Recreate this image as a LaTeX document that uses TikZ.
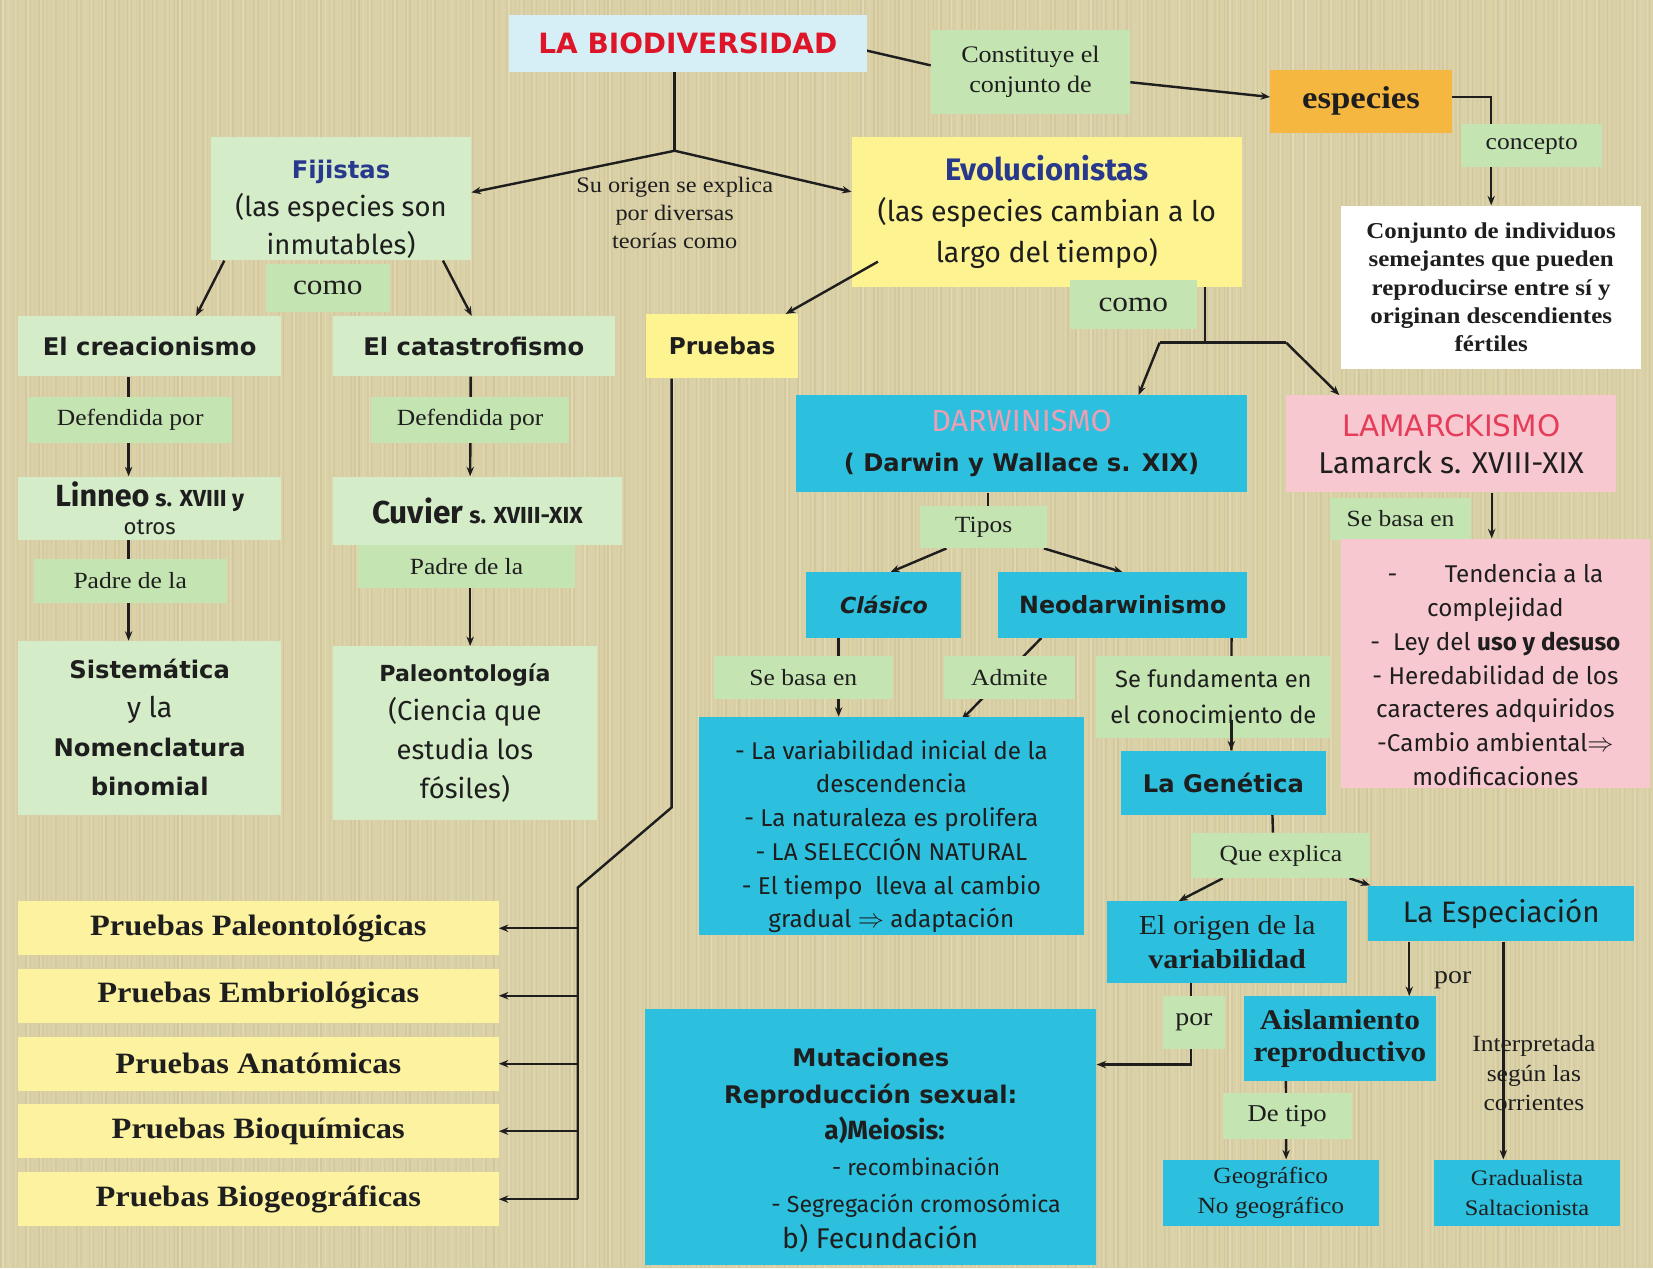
\documentclass[tikz,border=0pt]{standalone}
\usepackage{fontspec}
\setmainfont{Liberation Serif}[FakeStretch=1.1]
\newfontfamily\comic{DejaVu Sans}
\newfontfamily\hand{Fira Sans}
\usetikzlibrary{arrows.meta,calc}
\newcommand\myfs[2]{\fontsize{#1}{#2}\selectfont}
\definecolor{bgtan}{RGB}{219,209,166}
\definecolor{boxgreen}{RGB}{212,236,200}
\definecolor{lblgreen}{RGB}{196,228,178}
\definecolor{ybox}{RGB}{253,243,145}
\definecolor{ybox2}{RGB}{252,242,160}
\definecolor{cyanbox}{RGB}{44,192,222}
\definecolor{pinkbox}{RGB}{248,200,208}
\definecolor{orangebox}{RGB}{246,183,64}
\definecolor{lblue}{RGB}{214,238,246}
\definecolor{titlered}{RGB}{222,20,40}
\definecolor{navy}{RGB}{40,56,140}
\definecolor{darpink}{RGB}{238,158,178}
\definecolor{lampink}{RGB}{230,60,90}
\definecolor{ink}{RGB}{30,30,30}
\pgfdeclarelayer{back}
\pgfdeclarelayer{lines}
\pgfsetlayers{back,lines,main}
\tikzset{
  box/.style={rectangle, inner sep=2pt, align=center, text=ink},
  gbox/.style={box, fill=boxgreen},
  lbl/.style={box, fill=lblgreen, font={\myfs{22}{26}}},
  conn/.style={draw=ink, line width=2.3pt, -{Stealth[length=9pt,width=7pt]}},
  plain/.style={draw=ink, line width=2.3pt},
  freetext/.style={align=center, text=ink}
}
\begin{document}
\begin{tikzpicture}[x=1pt,y=-1pt]
\useasboundingbox (0,0) rectangle (1568,1203);
\begin{pgfonlayer}{back}
\fill[bgtan] (0,0) rectangle (1568,1203);
\pgfmathsetseed{7}
\foreach \i in {0,...,391}{
  \pgfmathsetmacro\oo{0.02+0.05*rnd}
  \fill[black!60!brown, opacity=\oo] ({\i*4},0) rectangle ++(1.6,1203);
}
\foreach \i in {0,...,260}{
  \pgfmathsetmacro\oo{0.06+0.14*rnd}
  \fill[white, opacity=\oo] ({\i*6+2},0) rectangle ++(1.4,1203);
}
\end{pgfonlayer}

% ---- nodes ----
\node[box, fill=lblue, minimum width=339, minimum height=54, font={\comic\bfseries\myfs{26.5}{30}}, text=titlered] (bio) at (652.5,41) {LA BIODIVERSIDAD};
\node[lbl, minimum width=189, minimum height=80, font={\myfs{22.5}{28}}] (lconst) at (977.5,68) {Constituye el\\conjunto de};
\node[box, fill=orangebox, minimum width=172, minimum height=60, font={\bfseries\myfs{30}{32}}] (esp) at (1291,96) {especies};
\node[lbl, minimum width=134, minimum height=40] (lconc) at (1453,138) {concepto};
\node[box, fill=white, minimum width=285, minimum height=155, font={\bfseries\myfs{21.5}{27}}] (wbox) at (1414.5,272.5) {Conjunto de individuos\\semejantes que pueden\\reproducirse entre sí y\\originan descendientes\\fértiles};

\node[freetext, font={\myfs{21}{27}}] (suor) at (640,202) {Su origen se explica\\por diversas\\teorías como};

\node[gbox, minimum width=247, minimum height=117, font={\hand\myfs{26}{36}}] (fij) at (323.5,188.5) {\rule{0pt}{37pt}{\comic\bfseries\color{navy}\myfs{23}{36}Fijistas}\\(las especies son\\inmutables)};
\node[box, fill=ybox, minimum width=370, minimum height=142, font={\hand\myfs{27}{39}}] (evo) at (993,201) {{\bfseries\color{navy}\myfs{29.5}{39}Evolucionistas}\\(las especies cambian a lo\\largo del tiempo)};

\node[lbl, minimum width=118, minimum height=46, font={\myfs{27}{30}}] (lcomo1) at (311,273) {como};
\node[lbl, minimum width=120, minimum height=46, font={\myfs{27}{30}}] (lcomo2) at (1075,289) {como};

\node[gbox, minimum width=250, minimum height=57, font={\comic\bfseries\myfs{23}{26}}] (crea) at (142,328.5) {El creacionismo};
\node[gbox, minimum width=267, minimum height=57, font={\comic\bfseries\myfs{23}{26}}] (cata) at (449.5,328.5) {El catastrofismo};
\node[box, fill=ybox, minimum width=144, minimum height=61, font={\comic\bfseries\myfs{22}{26}}] (prue) at (685,328.5) {Pruebas};

\node[box, fill=cyanbox, minimum width=428, minimum height=92, font={\comic\bfseries\myfs{23}{38}}] (darw) at (969,421) {{\hand\mdseries\color{darpink}\myfs{29}{38}DARWINISMO}\\( Darwin y Wallace s. XIX)};
\node[box, fill=pinkbox, minimum width=313, minimum height=92, font={\hand\myfs{28.5}{35}}] (lama) at (1376.5,421) {{\comic\color{lampink}\myfs{28}{35}LAMARCKISMO}\\Lamarck s. XVIII-XIX};

\node[lbl, minimum width=193, minimum height=43] (ldef1) at (123.5,398.5) {Defendida por};
\node[lbl, minimum width=188, minimum height=43] (ldef2) at (446,398.5) {Defendida por};
\node[gbox, minimum width=250, minimum height=60, font={\hand\myfs{21}{27}}] (lin) at (142,482) {{\bfseries\myfs{29}{27}Linneo} {\bfseries\myfs{22}{27}s. XVIII y}\\otros};
\node[gbox, minimum width=274, minimum height=65, font={\hand\myfs{22}{27}}] (cuv) at (453,484.5) {{\bfseries\myfs{30}{30}Cuvier} \textbf{s. XVIII-XIX}};
\node[lbl, minimum width=183, minimum height=42] (lpad1) at (123.5,551) {Padre de la};
\node[lbl, minimum width=205, minimum height=41] (lpad2) at (442.5,537.5) {Padre de la};

\node[gbox, minimum width=250, minimum height=165, font={\comic\bfseries\myfs{23}{37}}] (sist) at (142,690.5) {Sistemática\\{\hand\mdseries\myfs{27}{37}y la}\\Nomenclatura\\binomial};
\node[gbox, minimum width=250, minimum height=165, font={\hand\myfs{26}{37}}] (pale) at (441,695.5) {{\comic\bfseries\myfs{21}{37}Paleontología}\\(Ciencia que\\estudia los\\fósiles)};

\node[lbl, minimum width=120, minimum height=40] (ltipos) at (933,500) {Tipos};
\node[box, fill=cyanbox, minimum width=147, minimum height=62, font={\comic\bfseries\itshape\myfs{21}{26}}] (clas) at (838.5,574) {Clásico};
\node[box, fill=cyanbox, minimum width=236, minimum height=62, font={\comic\bfseries\myfs{22.5}{26}}] (neo) at (1065,574) {Neodarwinismo};
\node[lbl, minimum width=170, minimum height=41] (lseb1) at (762,642.5) {Se basa en};
\node[lbl, minimum width=125, minimum height=41] (ladm) at (957.5,642.5) {Admite};
\node[lbl, minimum width=222, minimum height=78, font={\hand\myfs{22.5}{34}}] (lfund) at (1151,661) {Se fundamenta en\\el conocimiento de};
\node[box, fill=cyanbox, minimum width=365, minimum height=197, font={\hand\myfs{23}{32}}] (vari) at (845.5,783.5) {\rule{0pt}{38pt}- La variabilidad inicial de la\\descendencia\\- La naturaleza es prolifera\\- LA SELECCIÓN NATURAL\\- El tiempo\ \ lleva al cambio\\gradual $\Rightarrow$ adaptación};

\node[box, fill=cyanbox, minimum width=195, minimum height=61, font={\comic\bfseries\myfs{23}{26}}] (gen) at (1160.5,742.5) {La Genética};
\node[lbl, minimum width=170, minimum height=43] (lque) at (1215,811.5) {Que explica};
\node[box, fill=cyanbox, minimum width=228, minimum height=77, font={\myfs{26}{32}}] (orig) at (1164,893.5) {El origen de la\\\textbf{variabilidad}};
\node[box, fill=cyanbox, minimum width=252, minimum height=53, font={\hand\myfs{28}{30}}] (espe) at (1424,866.5) {La Especiación};
\node[lbl, minimum width=59, minimum height=50, font={\myfs{24}{26}}] (lpor1) at (1132.5,970) {por};

\node[box, fill=cyanbox, minimum width=428, minimum height=243, font={\hand\myfs{27}{34.5}}] (muta) at (826,1078.5) {\rule{0pt}{43pt}{\comic\bfseries\myfs{23}{34.5}Mutaciones}\\{\comic\bfseries\myfs{23}{34.5}Reproducción sexual:}\\\hspace*{26pt}{\bfseries\myfs{25}{34.5}a)Meiosis:}\\\hspace*{86pt}{\myfs{21.5}{34.5}- recombinación}\\\hspace*{86pt}{\myfs{22}{34.5}- Segregación cromosómica}\\\hspace*{18pt}b) Fecundación};

\node[box, fill=cyanbox, minimum width=182, minimum height=80, font={\bfseries\myfs{27}{30}}] (ais) at (1271,985) {Aislamiento\\reproductivo};
\node[lbl, minimum width=122, minimum height=43, font={\myfs{23}{26}}] (lde) at (1221,1058.5) {De tipo};
\node[box, fill=cyanbox, minimum width=205, minimum height=63, font={\myfs{22}{28}}] (geo) at (1205.5,1131.5) {Geográfico\\No geográfico};
\node[box, fill=cyanbox, minimum width=177, minimum height=63, font={\myfs{21}{28}}] (grad) at (1448.5,1131.5) {Gradualista\\Saltacionista};
\node[freetext, font={\myfs{24}{26}}] (por2) at (1378,930) {por};
\node[freetext, font={\myfs{22}{28}}] (interp) at (1455,1018) {Interpretada\\según las\\corrientes};

\node[lbl, minimum width=133, minimum height=40] (lseb2) at (1328.5,492) {Se basa en};
\node[box, fill=pinkbox, minimum width=293, minimum height=222, font={\hand\myfs{23}{32}}] (lamt) at (1418.5,629) {\rule{0pt}{40pt}-\hspace{45pt}Tendencia a la\\complejidad\\-\ \ Ley del \textbf{uso y desuso}\\- Heredabilidad de los\\caracteres adquiridos\\-Cambio ambiental$\Rightarrow$\\modificaciones};

\foreach \n/\y/\t in {pr1/880.5/Paleontológicas, pr2/944.5/Embriológicas, pr3/1009/Anatómicas, pr4/1073/Bioquímicas, pr5/1137.5/Biogeográficas}{
  \node[box, fill=ybox2, minimum width=456, minimum height=51, font={\bfseries\myfs{28}{30}}] (\n) at (245,\y) {Pruebas \t};
}

% ---- connectors ----
\begin{pgfonlayer}{lines}
\draw[plain] ($(bio.east)+(0,7)$) -- ($(lconst.west)+(0,-6)$);
\draw[conn] ($(lconst.east)+(0,10)$) -- ($(esp.west)+(0,-4)$);
\draw[conn] ($(esp.east)+(0,-4)$) -| (wbox.north);
\coordinate (sp1) at (640,143);
\draw[plain] (sp1 |- bio.south) -- (sp1);
\draw[conn] (sp1) -- ($(fij.east)+(0,-6)$);
\draw[conn] (sp1) -- ($(evo.west)+(0,-19)$);
\draw[conn] ($(fij.south west)+(13,0)$) -- ($(crea.north)+(44,0)$);
\draw[conn] ($(fij.south east)+(-27,0)$) -- ($(cata.north)+(-2,0)$);
\draw[conn] ($(crea.south)+(-20,0)$) -- ($(lin.north)+(-20,0)$);
\draw[conn] ($(cata.south)+(-3,0)$) -- ($(cuv.north)+(-7,0)$);
\draw[conn] ($(lin.south)+(-20,0)$) -- ($(sist.north)+(-20,0)$);
\draw[conn] ($(cuv.south)+(-7,0)$) -- ($(pale.north)+(5,0)$);
\coordinate (sp2) at (1143,325);
\coordinate (sp2l) at (1100,325);
\coordinate (sp2r) at (1220,325);
\draw[plain] (sp2 |- evo.south) -- (sp2);
\draw[plain] (sp2l) -- (sp2r);
\draw[conn] (sp2l) -- ($(darw.north)+(111,0)$);
\draw[conn] (sp2r) -- ($(lama.north)+(-106,0)$);
\draw[plain] ($(darw.south)+(-32,0)$) -- ($(ltipos.north)+(4,0)$);
\draw[conn] ($(ltipos.south west)+(25,0)$) -- ($(clas.north)+(6,0)$);
\draw[conn] ($(ltipos.south east)+(-3,0)$) -- (neo.north);
\draw[conn] ($(clas.south)+(-43,0)$) -- ($(vari.north)+(-50,0)$);
\draw[conn] ($(neo.south west)+(41,0)$) -- ($(vari.north)+(66.5,3)$);
\draw[plain] ($(neo.south east)+(-15,0)$) -- ($(gen.north)+(7.5,0)$);
\draw[plain] ($(gen.south)+(46.5,0)$) -- ($(lque.north)+(-7.5,0)$);
\draw[conn] ($(lque.south west)+(30,0)$) -- ($(orig.north)+(-46,0)$);
\draw[conn] ($(lque.south east)+(-20,0)$) -- ($(espe.north west)+(2,0)$);
\draw[conn] ($(orig.south west)+(80,0)$) |- ($(muta.north east)+(0,53)$);
\draw[conn] ($(espe.south west)+(39,0)$) -- ($(ais.north west)+(157,0)$);
\draw[conn] ($(ais.south west)+(40,0)$) -- ($(geo.north)+(14.5,0)$);
\draw[conn] ($(lama.south)+(38.5,0)$) -- ($(lamt.north)+(-3.5,0)$);
\coordinate (pv1) at (637,766);
\coordinate (pv2) at (548,842);
\draw[plain] ($(prue.south)+(-48,0)$) -- (pv1) -- (pv2) -- (pv2 |- pr5.east);
\foreach \n in {pr1,pr2,pr3,pr4,pr5}{
  \draw[conn] (pv2 |- \n.east) -- (\n.east);
}
\end{pgfonlayer}
% connectors drawn over boxes
\draw[conn] ($(evo.south west)+(25,-24)$) -- ($(prue.north east)+(-12,0)$);
\draw[conn] ($(gen.north)+(7.5,-29)$) -- ($(gen.north)+(7.5,0)$);
\draw[conn] ($(espe.south)+(2,0)$) -- ($(grad.north)+(-22.5,0)$);
\end{tikzpicture}
\end{document}
